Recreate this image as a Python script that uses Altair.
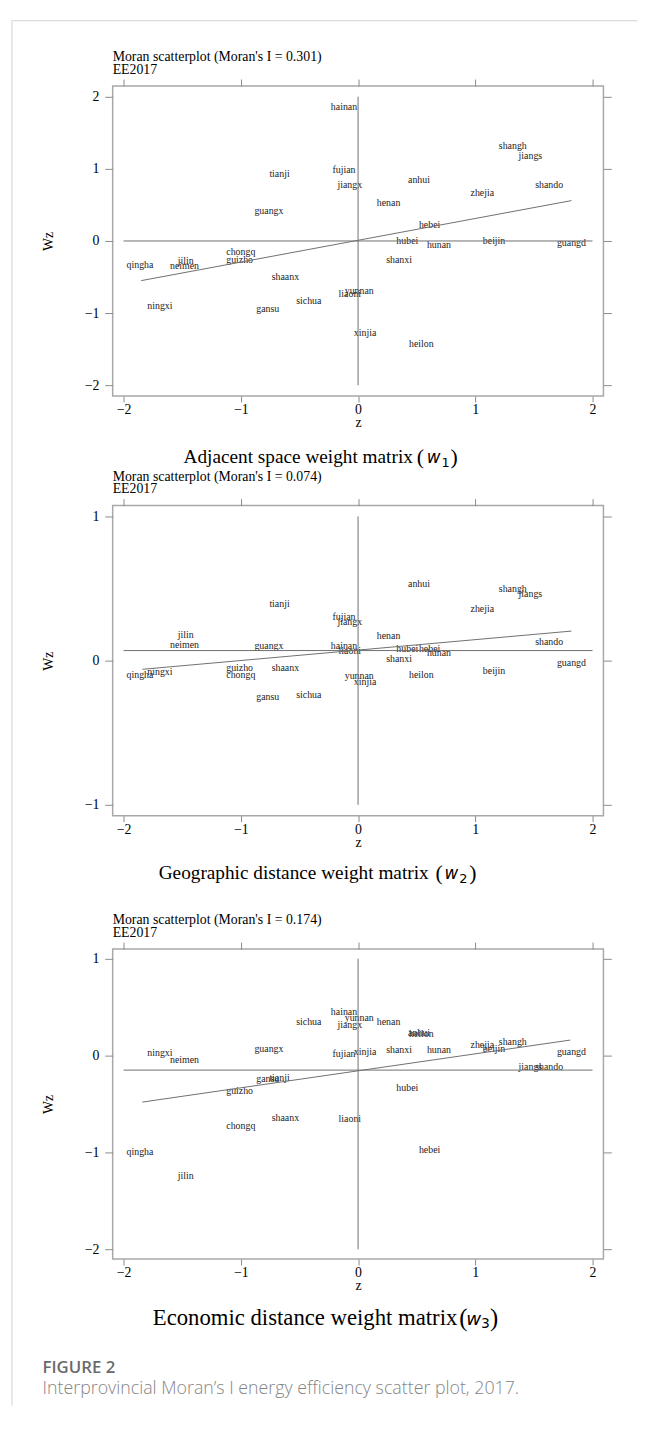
import altair as alt
import pandas as pd

# ---------------- data ----------------
provinces = ["beijin", "tianji", "hebei", "shanxi", "neimen", "liaoni", "jilin", "heilon",
             "shangh", "jiangs", "zhejia", "anhui", "fujian", "jiangx", "shando", "henan",
             "hubei", "hunan", "guangd", "guangx", "hainan", "chongq", "sichua", "guizho",
             "yunnan", "shaanx", "gansu", "qingha", "ningxi", "xinjia"]
z_vals = [1.16, -0.67, 0.61, 0.35, -1.48, -0.07, -1.47, 0.54,
          1.32, 1.47, 1.06, 0.52, -0.12, -0.07, 1.63, 0.26,
          0.42, 0.69, 1.82, -0.76, -0.12, -1.00, -0.42, -1.01,
          0.01, -0.62, -0.77, -1.86, -1.69, 0.06]
wz_w1 = [0.00, 0.93, 0.22, -0.27, -0.35, -0.73, -0.28, -1.43,
         1.32, 1.18, 0.67, 0.84, 0.99, 0.77, 0.77, 0.53,
         0.00, -0.05, -0.03, 0.42, 1.86, -0.15, -0.83, -0.26,
         -0.69, -0.50, -0.95, -0.34, -0.90, -1.27]
wz_w2 = [-0.07, 0.39, 0.08, 0.01, 0.11, 0.07, 0.18, -0.10,
         0.50, 0.46, 0.36, 0.53, 0.30, 0.27, 0.13, 0.17,
         0.08, 0.05, -0.02, 0.10, 0.10, -0.10, -0.24, -0.05,
         -0.11, -0.05, -0.25, -0.10, -0.08, -0.15]
wz_w3 = [0.07, -0.23, -0.98, 0.06, -0.05, -0.66, -1.24, 0.22,
         0.14, -0.12, 0.11, 0.23, 0.02, 0.32, -0.12, 0.35,
         -0.34, 0.06, 0.04, 0.07, 0.45, -0.73, 0.35, -0.37,
         0.39, -0.64, -0.24, -1.00, 0.03, 0.04]
wz_lists = [wz_w1, wz_w2, wz_w3]

moran_i = ["0.301", "0.074", "0.174"]
subtitle = "EE2017"
captions = ["Adjacent space weight matrix", "Geographic distance weight matrix",
            "Economic distance weight matrix"]
subscripts = ["1", "2", "3"]
figure_label = "FIGURE 2"
figure_caption = "Interprovincial Moran\u2019s I energy efficiency scatter plot, 2017."

hline_y = [0.0, 0.07, -0.15]
hline_x = [-2, 2]
vline_span = [[-2, 2], [-1, 1], [-2, 1]]
reg_x = [[-1.85, 1.82], [-1.84, 1.82], [-1.84, 1.81]]
reg_y = [[-0.55, 0.56], [-0.06, 0.205], [-0.48, 0.16]]
x_ticks = [-2, -1, 0, 1, 2]
y_ticks = [[-2, -1, 0, 1, 2], [-1, 0, 1], [-2, -1, 0, 1]]
x_domain = [-2.093, 2.093]
y_domains = [[-2.15, 2.15], [-1.075, 1.075], [-2.10, 1.10]]

# ---------------- style ----------------
W, H = 497, 314
SERIF = "Liberation Serif"
SANS = "Open Sans"
LINE = "#6f6f6f"
TICK = "#8a8a8a"
FRAME = "#a8a8a8"
BORDER = "#d2d2d2"


def panel(i):
    xs = alt.Scale(domain=x_domain, nice=False, zero=False)
    ys = alt.Scale(domain=y_domains[i], nice=False, zero=False)
    df = pd.DataFrame({"prov": provinces, "z": z_vals, "wz": wz_lists[i]})

    labels = alt.Chart(df).mark_text(font=SERIF, fontSize=10, color="#222222",
                                     align="center", baseline="middle").encode(
        x=alt.X("z:Q", scale=xs, axis=alt.Axis(
            orient="bottom", values=x_ticks, format="d", title="z", grid=False, domain=False,
            tickSize=6, tickColor=TICK, labelPadding=1, labelFlush=False,
            labelFont=SERIF, labelFontSize=14, labelColor="#000000",
            titleFont=SERIF, titleFontSize=14, titleFontWeight="normal", titleColor="#000000",
            titleX=W / 2, titleY=27, titleAlign="center", titleBaseline="middle")),
        y=alt.Y("wz:Q", scale=ys, axis=alt.Axis(
            orient="left", values=y_ticks[i], format="d", title="Wz", grid=False, domain=False,
            tickSize=8, tickColor=TICK, labelPadding=6, labelFlush=False,
            labelFont=SERIF, labelFontSize=14, labelColor="#000000",
            titleFont=SERIF, titleFontSize=14, titleFontWeight="normal", titleColor="#000000",
            titleX=-65, titleY=H / 2, titleAngle=270, titleAlign="center",
            titleBaseline="middle")),
        text="prov:N",
    )

    vdf = pd.DataFrame({"vx": [0.0], "vy1": [vline_span[i][0]], "vy2": [vline_span[i][1]]})
    vrule = alt.Chart(vdf).mark_rule(color=LINE, strokeWidth=1).encode(
        x=alt.X("vx:Q", scale=xs, axis=alt.Axis(
            orient="top", values=x_ticks, labels=False, title=None, grid=False, domain=False,
            tickSize=7, tickColor=TICK)),
        y=alt.Y("vy1:Q", scale=ys, axis=alt.Axis(
            orient="right", values=y_ticks[i], labels=False, title=None, grid=False,
            domain=False, tickSize=8, tickColor=TICK)),
        y2="vy2:Q",
    )

    hdf = pd.DataFrame({"hx1": [hline_x[0]], "hx2": [hline_x[1]], "hy": [hline_y[i]]})
    hrule = alt.Chart(hdf).mark_rule(color=LINE, strokeWidth=1).encode(
        x=alt.X("hx1:Q", scale=xs, axis=None),
        x2="hx2:Q",
        y=alt.Y("hy:Q", scale=ys, axis=None),
    )

    rdf = pd.DataFrame({"rx": reg_x[i], "ry": reg_y[i]})
    reg = alt.Chart(rdf).mark_line(color=LINE, strokeWidth=1).encode(
        x=alt.X("rx:Q", scale=xs, axis=None),
        y=alt.Y("ry:Q", scale=ys, axis=None),
    )

    return alt.layer(labels, vrule, hrule, reg).resolve_axis(
        x="independent", y="independent"
    ).properties(width=W, height=H,
                 view=alt.ViewBackground(stroke=FRAME, strokeWidth=1.5))


def text_item(txt, x, y, font=SERIF, size=14, color="#000000", style="normal",
              weight="normal", align="left"):
    d = pd.DataFrame({"t": [txt]})
    return alt.Chart(d).mark_text(font=font, fontSize=size, color=color, fontStyle=style,
                                  fontWeight=weight, align=align, baseline="middle").encode(
        x=alt.value(x), y=alt.value(y), text="t:N")


def title_items(i, y_title, y_sub):
    return [text_item("Moran scatterplot (Moran's I = %s)" % moran_i[i], 0, y_title, size=14),
            text_item(subtitle, 0, y_sub, size=14)]


def caption_items(i, y, right, paren_l, w_l, sub_l, close_l, size, psize, wsize, subsize):
    return [
        text_item(captions[i], right, y, size=size, align="right"),
        text_item("(", paren_l, y, size=psize),
        text_item("w", w_l, y + 1, font="DejaVu Sans", size=wsize, style="italic"),
        text_item(subscripts[i], sub_l, y + 6, font="DejaVu Sans", size=subsize),
        text_item(")", close_l, y, size=psize),
    ]


def box(items, h):
    return alt.layer(*items).properties(width=W, height=h)


TOP0 = 66
CAP1_H = 111
CAP2_H = 135
CAP3_H = 148

spacer0 = box(title_items(0, 37, 49.5), TOP0)
cap1 = box(caption_items(0, 62, 304, 308, 318, 333, 342, 19.5, 22, 17, 13)
           + title_items(1, 82, 94.5), CAP1_H)
cap2 = box(caption_items(1, 58, 320, 327, 336, 351, 361, 19.5, 22, 17, 13)
           + title_items(2, 106, 118.5), CAP2_H)
cap3 = box(caption_items(2, 60, 349, 351, 358, 373, 382, 23, 25, 18.5, 14)
           + [text_item(figure_label, -71, 110, font=SANS, size=17, color="#6a6a6a",
                        weight=600),
              text_item(figure_caption, -71, 132, font=SANS, size=18, color="#858585",
                        weight=300)], CAP3_H)

content = alt.vconcat(spacer0, panel(0), cap1, panel(1), cap2, panel(2), cap3,
                      spacing=0, bounds="flush")

content_h = TOP0 + 3 * H + CAP1_H + CAP2_H + CAP3_H

dummy = pd.DataFrame({"a": [0]})


def blank(w, h, fill="transparent"):
    return alt.Chart(dummy).mark_point(size=0, opacity=0, filled=True, strokeWidth=0).encode(
        x=alt.value(0), y=alt.value(0)).properties(
        width=w, height=h, view=alt.ViewBackground(fill=fill, stroke="transparent"))


left_border = blank(1, content_h, BORDER)
left_spacer = blank(102, 10)
top_border = blank(634, 1, BORDER)

body = alt.hconcat(left_border, left_spacer, content, spacing=0, bounds="flush")

chart = alt.vconcat(top_border, body, spacing=0, bounds="flush").properties(
    padding={"left": 2, "top": 2, "right": 0, "bottom": 0},
    background="white",
).configure_view(stroke="transparent")

chart.save("out.html", embed_options={"renderer": "svg", "actions": False})
